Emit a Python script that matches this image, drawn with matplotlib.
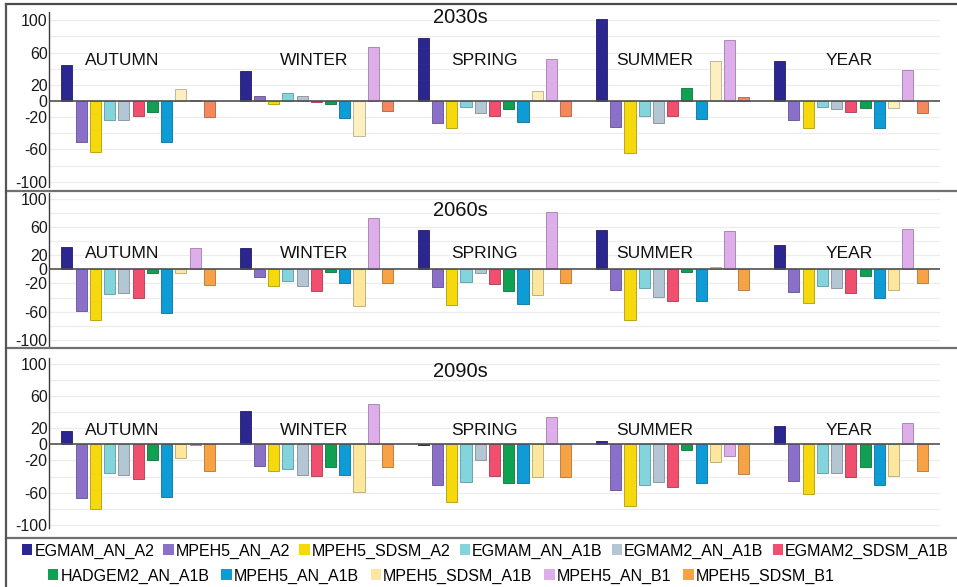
import matplotlib
matplotlib.use("Agg")
import matplotlib.pyplot as plt
from matplotlib.lines import Line2D
from matplotlib.patches import Patch
from matplotlib.colors import to_rgb

plt.rcParams['font.family'] = ['Liberation Sans', 'DejaVu Sans']

seasons = ['AUTUMN', 'WINTER', 'SPRING', 'SUMMER', 'YEAR']
periods = ['2030s', '2060s', '2090s']
models = ['EGMAM_AN_A2', 'MPEH5_AN_A2', 'MPEH5_SDSM_A2', 'EGMAM_AN_A1B',
          'EGMAM2_AN_A1B', 'EGMAM2_SDSM_A1B', 'HADGEM2_AN_A1B', 'MPEH5_AN_A1B',
          'MPEH5_SDSM_A1B', 'MPEH5_AN_B1', 'MPEH5_SDSM_B1']
colors = ['#2c2690', '#8a70c8', '#f6d90c', '#84d4dd', '#b4c6d3', '#f04f6e',
          '#10a052', '#0d9cd6', '#fce79c', '#deaeea', '#f7a345']

# change (%) per model (rows) and season (columns: AUTUMN..YEAR)
change_2030s = [
    [45, 37, 78, 102, 49],        # EGMAM_AN_A2
    [-51, 6, -27, -32, -23],      # MPEH5_AN_A2
    [-63, -4, -33, -64, -33],     # MPEH5_SDSM_A2
    [-24, 9.5, -8, -18, -7],      # EGMAM_AN_A1B
    [-24, 6, -15, -27, -10],      # EGMAM2_AN_A1B
    [-19, -1.5, -19, -18, -14],   # EGMAM2_SDSM_A1B
    [-14, -4, -10, 16.5, -9],     # HADGEM2_AN_A1B
    [-51, -21, -26, -22, -33],    # MPEH5_AN_A1B
    [14.5, -44, 13, 50, -9],      # MPEH5_SDSM_A1B
    [1, 67, 52, 75, 39],          # MPEH5_AN_B1
    [-19.5, -12, -18, 5, -15],    # MPEH5_SDSM_B1
]
change_2060s = [
    [32, 30, 55, 56, 35],
    [-59, -11, -25, -29, -32],
    [-71, -24, -50, -71, -48],
    [-35, -17, -18, -27, -24],
    [-33, -24, -5.5, -39, -26],
    [-41, -31, -21, -45, -33],
    [-5.5, -4, -31, -4, -9.5],
    [-62, -20, -49, -45, -41],
    [-5.5, -52, -36, 3, -29],
    [30, 72, 81, 54, 57],
    [-22, -20, -20, -29, -20],
]
change_2090s = [
    [16, 41, -1, 4.5, 23],
    [-66, -27, -50, -57, -46],
    [-80, -33, -71, -77, -61],
    [-35, -30, -47, -51, -35],
    [-38, -38, -20, -47, -35.5],
    [-43, -39, -39, -53, -41],
    [-20, -28, -48, -6.5, -28],
    [-65, -38, -47.5, -48, -50],
    [-17, -59, -41, -21.5, -39],
    [-0.5, 50, 34, -15, 26],
    [-33, -28, -41, -37, -33],
]
tables = [change_2030s, change_2060s, change_2090s]

# the first panel renders the last two series in paler / redder tones
panel_colors = [
    colors[:8] + ['#fdf0c0', '#deaeea', '#f5875c'],
    colors,
    colors,
]

W, H = 957, 587
fig = plt.figure(figsize=(W / 100, H / 100), dpi=100)

# panel geometry in pixels: (top, bottom, ymin, ymax, label_y, title_y)
panels = [
    (12, 187, -106.6, 110.3, 50, 103),
    (193, 346, -108.3, 107.8, 23, 83),
    (358, 528, -103.7, 106.9, 17.5, 90),
]
left_px, right_px = 49, 940
label_x = [-0.09, 0.99, 1.945, 2.90, 3.99]
title_x = 1.81

pitch = 0.0799
width = 0.062


def darker(c, f=0.72):
    r, g, b = to_rgb(c)
    return (r * f, g * f, b * f)


for p, (top, bottom, ylo, yhi, ly, ty) in enumerate(panels):
    ax = fig.add_axes([left_px / W, 1 - bottom / H,
                       (right_px - left_px) / W, (bottom - top) / H])
    ax.set_xlim(-0.5, 4.5)
    ax.set_ylim(ylo, yhi)
    ax.patch.set_alpha(0)
    for yv in range(-100, 101, 20):
        if yv != 0:
            ax.axhline(yv, color='#ededed', lw=0.9, zorder=0)
    ax.axhline(0, color='#505050', lw=1.2, zorder=3)

    table = tables[p]
    pal = panel_colors[p]
    for i, name in enumerate(models):
        xs = [s + (i - 5) * pitch for s in range(len(seasons))]
        ax.bar(xs, table[i], width=width, color=pal[i],
               edgecolor=darker(pal[i]), linewidth=0.6, zorder=2)

    for s, season in enumerate(seasons):
        ax.text(label_x[s], ly, season, ha='center', va='center',
                fontsize=12.5, color='#111111', zorder=4)
    ax.text(title_x, ty, periods[p], ha='center', va='center',
            fontsize=14.5, color='#111111', zorder=4)

    ticks = [100, 60, 20, 0, -20, -60, -100]
    ax.set_yticks(ticks)
    ax.set_yticklabels([str(t) for t in ticks])
    ax.tick_params(axis='y', length=0, pad=1, labelsize=11.5, labelcolor='#1a1a1a')
    ax.set_xticks([])
    for side in ['top', 'right', 'bottom']:
        ax.spines[side].set_visible(False)
    ax.spines['left'].set_color('#3c3c3c')
    ax.spines['left'].set_linewidth(1.0)

# frame lines around the panels
def hline(ypx, color='#707070', lw=1.6):
    fig.add_artist(Line2D([6 / W, 1], [1 - ypx / H] * 2, color=color, lw=lw))

hline(4, '#4a4a4a')
hline(191)
hline(348)
hline(538)
fig.add_artist(Line2D([6 / W] * 2, [0, 1 - 4 / H], color='#555555', lw=1.6))

handles = [Patch(facecolor=c, edgecolor='none', label=m) for m, c in zip(models, colors)]
leg_kw = dict(frameon=False, fontsize=11.5, handlelength=0.65, handleheight=0.65,
              handletextpad=0.12, borderpad=0, borderaxespad=0, loc='center left')
fig.legend(handles=handles[:6], ncol=6, columnspacing=0.58,
           bbox_to_anchor=(22 / W, 1 - 551 / H), **leg_kw)
fig.legend(handles=handles[6:], ncol=5, columnspacing=0.75,
           bbox_to_anchor=(48 / W, 1 - 576 / H), **leg_kw)

fig.savefig('out.png', dpi=100)
